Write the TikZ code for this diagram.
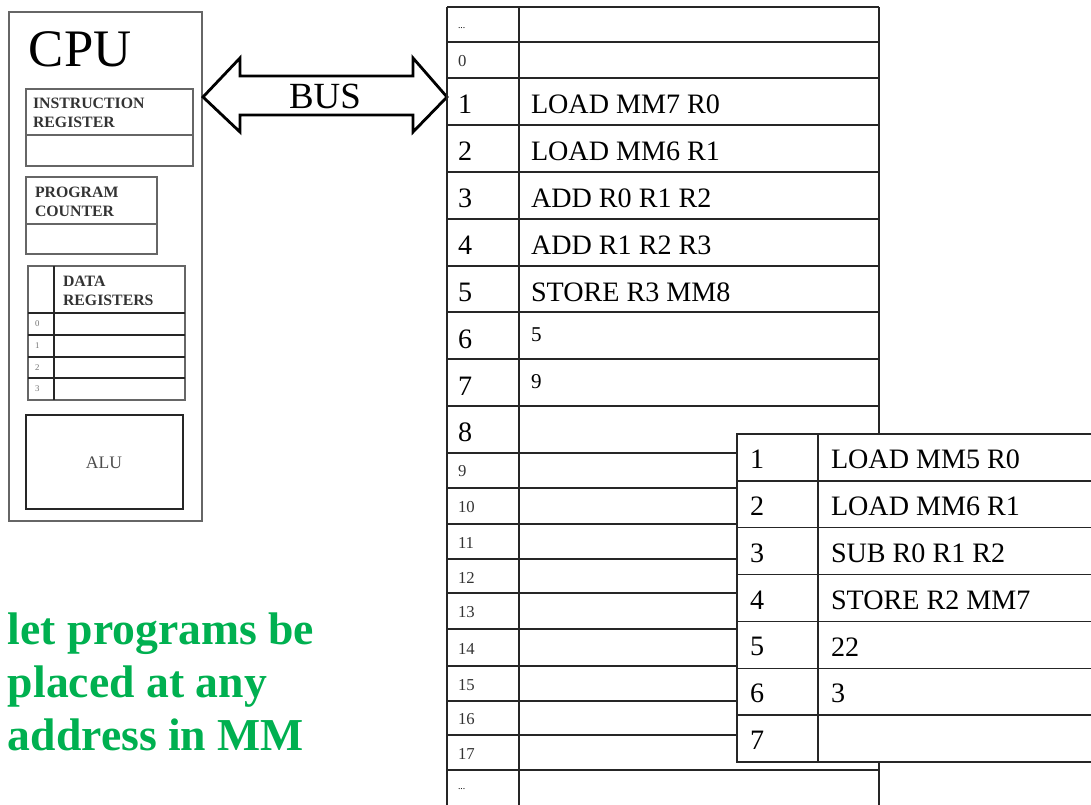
\documentclass[tikz,border=0pt]{standalone}
\usepackage{fontspec}
\setmainfont{Liberation Serif}
\usetikzlibrary{calc}

\definecolor{noteGreen}{HTML}{00B050}

\begin{document}
\begin{tikzpicture}[x=0.02cm, y=-0.02cm,
    every node/.style={inner sep=0pt, outer sep=0pt},
    cpuline/.style={draw=black!60, line width=0.7pt},
    cellline/.style={draw=black!85, line width=0.8pt},
    reglabel/.style={font=\fontsize{9}{10.8}\selectfont\bfseries, text=black!80,
        align=left, anchor=north west},
    bigtext/.style={font=\fontsize{16}{19}\selectfont, anchor=west},
    midtext/.style={font=\fontsize{12}{14}\selectfont, anchor=west},
    smalltext/.style={font=\fontsize{9.5}{11}\selectfont, text=black!80, anchor=west},
    tinytext/.style={font=\fontsize{5}{6}\selectfont, text=black!55, anchor=west},
    dotstext/.style={font=\fontsize{5.5}{6}\selectfont, anchor=base west}]

    % ---- Canvas ----
    \useasboundingbox (0,0) rectangle (1091,804);
    \clip (0,0) rectangle (1091,804);

    % ---- Parameters ----
    \def\mL{447}      % memory left edge
    \def\mD{519}      % memory column divider
    \def\mR{879}      % memory right edge
    \def\pL{737}      % second program left edge
    \def\pD{818}      % second program divider
    \def\pT{434}      % second program top
    \def\pH{46.86}    % big row height

    % ---- CPU ----
    \draw[cpuline] (9,12) rectangle (202,521);
    \node[font=\fontsize{30}{36}\selectfont, anchor=base west] (cputitle) at (29,67) {CPU};

    % instruction register
    \draw[cpuline] (26,89) rectangle (193,166);
    \draw[cpuline] (26,135) -- (193,135);
    \node[reglabel] (irlabel) at (33,98) {INSTRUCTION\\REGISTER};

    % program counter
    \draw[cpuline] (26,177) rectangle (157,254);
    \draw[cpuline] (26,224) -- (157,224);
    \node[reglabel] (pclabel) at (35,187) {PROGRAM\\COUNTER};

    % data registers
    \draw[cpuline] (28,266) rectangle (185,400);
    \draw[cellline, line width=0.7pt] (54,266) -- (54,400);
    \foreach \y in {313,335,357,378}
        \draw[cellline, line width=0.7pt] (28,\y) -- (185,\y);
    \node[reglabel] (drlabel) at (63,276) {DATA\\REGISTERS};
    \foreach \r/\y in {0/324,1/346,2/367.5,3/389}
        \node[tinytext] (dr\r) at (35,\y) {\r};

    % ALU
    \draw[draw=black!85, line width=1.3pt] (26,415) rectangle (183,509);
    \node[font=\fontsize{10}{12}\selectfont, text=black!70] (alu) at (104,463) {ALU};

    % ---- BUS (double block arrow) ----
    \coordinate (busL) at (203,97);
    \coordinate (busR) at (\mL,97);
    \draw[line width=1.6pt, fill=white, line join=miter]
        (busL) -- ($(busL)+(37,-39)$) -- ($(busL)+(37,-21)$)
        -- ($(busR)+(-34,-21)$) -- ($(busR)+(-34,-39)$) -- (busR)
        -- ($(busR)+(-34,35)$) -- ($(busR)+(-34,18)$)
        -- ($(busL)+(37,18)$) -- ($(busL)+(37,35)$) -- cycle;
    \node[font=\fontsize{21}{25}\selectfont] (bus) at (325,96) {BUS};

    % ---- Main memory ----
    \foreach \y in {7,42,78,125,172,219,266,312,359,406,453,
                    488,524,559,593,629,666,701,735,770}
        \draw[cellline] (\mL,\y) -- (\mR,\y);
    \foreach \x in {\mL,\mD,\mR}
        \draw[cellline] (\x,7) -- (\x,810);

    \node[dotstext] (mtop) at (458,29) {...};
    \node[smalltext] (m0) at (458,61) {0};
    \foreach \i/\y/\txt in {1/104.5/LOAD MM7 R0, 2/151.5/LOAD MM6 R1,
                            3/198.5/ADD R0 R1 R2, 4/245.5/ADD R1 R2 R3,
                            5/292/STORE R3 MM8} {
        \node[bigtext] (mi\i) at (458,\y) {\i};
        \node[bigtext] (mc\i) at (531,\y) {\txt};
    }
    \node[bigtext] (mi6) at (458,339) {6};
    \node[midtext] (mc6) at (531,335) {5};
    \node[bigtext] (mi7) at (458,386) {7};
    \node[midtext] (mc7) at (531,382) {9};
    \node[bigtext] (mi8) at (458,432.5) {8};
    \foreach \i/\y in {9/471,10/507.5,11/543,12/577.5,13/612.5,
                       14/649,15/685,16/719.5,17/754}
        \node[smalltext] (mi\i) at (458,\y) {\i};
    \node[dotstext] (mbot) at (458,789) {...};

    % ---- Second program, placed over the memory ----
    \fill[white] (\pL,\pT) rectangle (1100,{\pT+7*\pH});
    \draw[cellline] (1100,\pT) -- (\pL,\pT) -- (\pL,{\pT+7*\pH}) -- (1100,{\pT+7*\pH});
    \draw[cellline] (\pD,\pT) -- (\pD,{\pT+7*\pH});
    \foreach \k in {1,...,6}
        \draw[cellline] (\pL,{\pT+\k*\pH}) -- (1100,{\pT+\k*\pH});
    \foreach \i/\txt in {1/LOAD MM5 R0, 2/LOAD MM6 R1, 3/SUB R0 R1 R2,
                         4/STORE R2 MM7, 5/22, 6/3, 7/} {
        \node[bigtext] (pi\i) at (750,{\pT+(\i-0.5)*\pH+2}) {\i};
        \node[bigtext] (pc\i) at (831,{\pT+(\i-0.5)*\pH+2}) {\txt};
    }

    % ---- Note ----
    \node[font=\fontsize{26}{30}\selectfont\bfseries, text=noteGreen,
          align=left, anchor=north west] (note) at (8,613)
        {let programs be\\placed at any\\address in MM};

\end{tikzpicture}
\end{document}
